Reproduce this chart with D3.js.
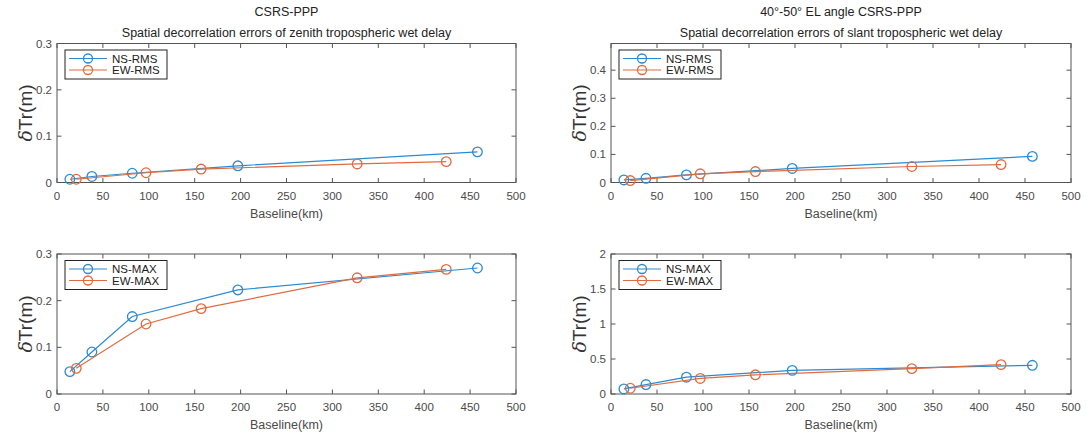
<!DOCTYPE html>
<html>
<head>
<meta charset="utf-8">
<script src="https://cdn.jsdelivr.net/npm/d3@7/dist/d3.min.js"></script>
<style>
html,body{margin:0;padding:0;background:#fff;}
svg{display:block;font-family:"Liberation Sans",Arial,Helvetica,sans-serif;}
</style>
</head>
<body>
<svg id="chart" width="1087" height="439"></svg>
<script>
// ---- data ----
const nsBaseline = [14, 38, 82, 197, 458];
const ewBaseline = [21, 97, 157, 327, 424];

const zenithRmsNS = [0.007, 0.013, 0.020, 0.036, 0.066];
const zenithRmsEW = [0.007, 0.021, 0.029, 0.040, 0.045];
const slantRmsNS  = [0.009, 0.015, 0.027, 0.050, 0.093];
const slantRmsEW  = [0.007, 0.031, 0.039, 0.057, 0.064];
const zenithMaxNS = [0.048, 0.090, 0.166, 0.223, 0.270];
const zenithMaxEW = [0.055, 0.150, 0.183, 0.249, 0.267];
const slantMaxNS  = [0.072, 0.135, 0.240, 0.337, 0.410];
const slantMaxEW  = [0.082, 0.222, 0.274, 0.362, 0.420];

const xTicks = [0, 50, 100, 150, 200, 250, 300, 350, 400, 450, 500];
const yTicksZenithRms = [0, 0.1, 0.2, 0.3];
const yTicksSlantRms  = [0, 0.1, 0.2, 0.3, 0.4];
const yTicksZenithMax = [0, 0.1, 0.2, 0.3];
const yTicksSlantMax  = [0, 0.5, 1, 1.5, 2];

const leftTitle  = ["CSRS-PPP", "Spatial decorrelation errors of zenith tropospheric wet delay"];
const rightTitle = ["40°-50° EL angle CSRS-PPP", "Spatial decorrelation errors of slant tropospheric wet delay"];
const xLabel = "Baseline(km)";
const legendRms = ["NS-RMS", "EW-RMS"];
const legendMax = ["NS-MAX", "EW-MAX"];

// ---- layout ----
const colors = ["#2C8AD0", "#E06B40"];
const axisColor = "#555555";
const textColor = "#4a4a4a";

const panels = [
  {x0: 57,  x1: 516,  y0: 43.5, y1: 182.5, ymax: 0.3,   yTicks: yTicksZenithRms, ns: zenithRmsNS, ew: zenithRmsEW, legend: legendRms, title: leftTitle},
  {x0: 611, x1: 1071, y0: 43.5, y1: 182.5, ymax: 0.495, yTicks: yTicksSlantRms,  ns: slantRmsNS,  ew: slantRmsEW,  legend: legendRms, title: rightTitle},
  {x0: 57,  x1: 516,  y0: 254,  y1: 394,   ymax: 0.3,   yTicks: yTicksZenithMax, ns: zenithMaxNS, ew: zenithMaxEW, legend: legendMax, title: null},
  {x0: 611, x1: 1071, y0: 254,  y1: 394,   ymax: 2,     yTicks: yTicksSlantMax,  ns: slantMaxNS,  ew: slantMaxEW,  legend: legendMax, title: null}
];

const svg = d3.select("#chart");

panels.forEach(p => {
  const g = svg.append("g");
  const x = d3.scaleLinear().domain([0, 500]).range([p.x0, p.x1]);
  const y = d3.scaleLinear().domain([0, p.ymax]).range([p.y1, p.y0]);
  const tl = 4.5;

  // box
  g.append("rect").attr("x", p.x0).attr("y", p.y0)
    .attr("width", p.x1 - p.x0).attr("height", p.y1 - p.y0)
    .attr("fill", "#fff").attr("stroke", axisColor).attr("stroke-width", 1);

  // x ticks (bottom & top, inward)
  xTicks.forEach(t => {
    const xx = x(t);
    g.append("line").attr("x1", xx).attr("x2", xx).attr("y1", p.y1).attr("y2", p.y1 - tl)
      .attr("stroke", axisColor);
    g.append("line").attr("x1", xx).attr("x2", xx).attr("y1", p.y0).attr("y2", p.y0 + tl)
      .attr("stroke", axisColor);
    g.append("text").attr("x", xx).attr("y", p.y1 + 17).attr("text-anchor", "middle")
      .attr("font-size", 11.5).attr("fill", textColor).text(String(t));
  });
  // y ticks (left & right, inward)
  p.yTicks.forEach(t => {
    const yy = y(t);
    g.append("line").attr("x1", p.x0).attr("x2", p.x0 + tl).attr("y1", yy).attr("y2", yy)
      .attr("stroke", axisColor);
    g.append("line").attr("x1", p.x1).attr("x2", p.x1 - tl).attr("y1", yy).attr("y2", yy)
      .attr("stroke", axisColor);
    g.append("text").attr("x", p.x0 - 5).attr("y", yy + 4).attr("text-anchor", "end")
      .attr("font-size", 11.5).attr("fill", textColor).text(String(t));
  });

  // x label
  g.append("text").attr("x", (p.x0 + p.x1) / 2).attr("y", p.y1 + 35)
    .attr("text-anchor", "middle").attr("font-size", 12.5).attr("fill", textColor).text(xLabel);

  // y label
  const yl = g.append("text")
    .attr("transform", `translate(${p.x0 - 25},${(p.y0 + p.y1) / 2}) rotate(-90)`)
    .attr("text-anchor", "middle").attr("font-size", 19).attr("fill", "#333");
  yl.append("tspan").attr("font-style", "italic").attr("font-family", "'DejaVu Serif',serif").text("δ");
  yl.append("tspan").text("Tr(m)");

  // titles
  if (p.title) {
    g.append("text").attr("x", (p.x0 + p.x1) / 2).attr("y", 16).attr("text-anchor", "middle")
      .attr("font-size", 12.5).attr("fill", "#222").text(p.title[0]);
    g.append("text").attr("x", (p.x0 + p.x1) / 2).attr("y", 36.5).attr("text-anchor", "middle")
      .attr("font-size", 12.5).attr("fill", "#222").text(p.title[1]);
  }

  // series
  const series = [
    {xs: nsBaseline, ys: p.ns, c: colors[0]},
    {xs: ewBaseline, ys: p.ew, c: colors[1]}
  ];
  const line = d3.line().x(d => x(d[0])).y(d => y(d[1]));
  series.forEach(s => {
    const pts = s.xs.map((v, i) => [v, s.ys[i]]);
    g.append("path").attr("d", line(pts)).attr("fill", "none")
      .attr("stroke", s.c).attr("stroke-width", 1.2);
    g.selectAll(null).data(pts).enter().append("circle")
      .attr("cx", d => x(d[0])).attr("cy", d => y(d[1])).attr("r", 4.8)
      .attr("fill", "none").attr("stroke", s.c).attr("stroke-width", 1.3);
  });

  // legend
  const lx = p.x0 + 8, ly = p.y0 + 6.5, lw = 102, lh = 29;
  g.append("rect").attr("x", lx).attr("y", ly).attr("width", lw).attr("height", lh)
    .attr("fill", "#fff").attr("stroke", "#222").attr("stroke-width", 1);
  p.legend.forEach((name, i) => {
    const yy = ly + 8.5 + i * 11.5;
    g.append("line").attr("x1", lx + 4).attr("x2", lx + 42).attr("y1", yy).attr("y2", yy)
      .attr("stroke", colors[i]).attr("stroke-width", 1.2);
    g.append("circle").attr("cx", lx + 23).attr("cy", yy).attr("r", 4.5)
      .attr("fill", "none").attr("stroke", colors[i]).attr("stroke-width", 1.3);
    g.append("text").attr("x", lx + 47).attr("y", yy + 4).attr("font-size", 11.5)
      .attr("fill", "#222").text(name);
  });
});
</script>
</body>
</html>
